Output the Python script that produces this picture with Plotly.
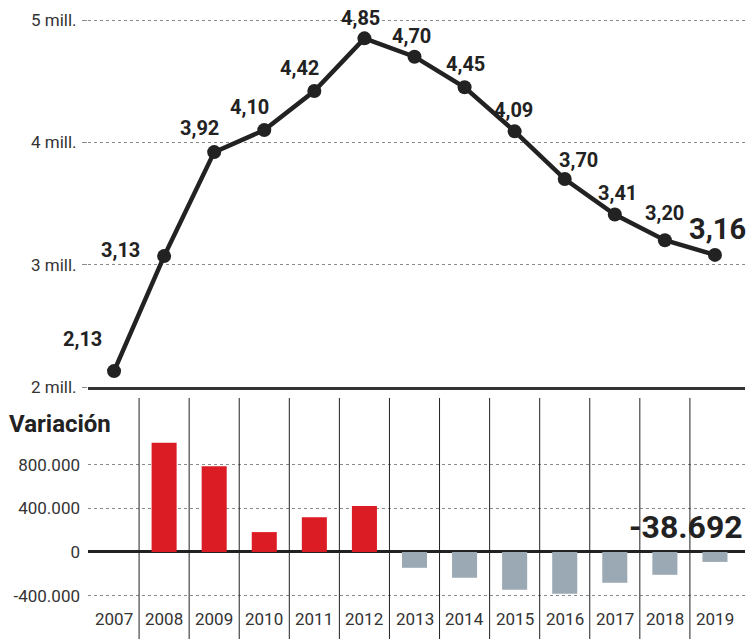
import plotly.graph_objects as go

years = list(range(2007, 2020))
# Total (millions) as plotted in the picture
total_mill = [2.13, 3.07, 3.92, 4.10, 4.42, 4.85, 4.70, 4.45, 4.09, 3.70, 3.41, 3.20, 3.08]
total_labels = ["2,13", "3,13", "3,92", "4,10", "4,42", "4,85", "4,70", "4,45", "4,09", "3,70", "3,41", "3,20", "3,16"]
# Yearly variation as drawn
variation = [0, 1000000, 785000, 182000, 318000, 420000, -145000, -236000, -345000, -382000, -282000, -209000, -91000]
last_variation_label = "-38.692"

top_ticks = [2, 3, 4, 5]
top_ticktext = ["2 mill.", "3 mill.", "4 mill.", "5 mill."]
bot_ticks = [-400000, 0, 400000, 800000]
bot_ticktext = ["-400.000", "0", "400.000", "800.000"]

# label offsets (px) relative to each point: (dx, dy up)
label_offsets = [(-32, 32), (-44, 6), (-15, 24), (-15, 23), (-15, 23), (-4, 20), (-3, 21),
                 (1, 23), (-1, 21), (14, 19), (3, 22), (0, 27), (3, 26)]

FONT = "Roboto, sans-serif"
BOLD = "Roboto, sans-serif"
RED = "#DC1C24"
GRAY = "#9AA9B4"
INK = "#222222"

W, H = 749, 639
def py(pix):
    return (H - pix) / H

fig = go.Figure()

fig.add_trace(go.Scatter(
    x=years, y=total_mill, mode="lines+markers",
    line=dict(color=INK, width=4.5),
    marker=dict(color=INK, size=14),
    xaxis="x", yaxis="y", hoverinfo="skip", showlegend=False,
))

bar_colors = [RED if v >= 0 else GRAY for v in variation]
fig.add_trace(go.Bar(
    x=years, y=variation, width=0.5, marker=dict(color=bar_colors, line=dict(width=0)),
    xaxis="x2", yaxis="y2", hoverinfo="skip", showlegend=False,
))

annotations = []
for i, (yr, v, lab) in enumerate(zip(years, total_mill, total_labels)):
    dx, dy = label_offsets[i]
    big = i == len(years) - 1
    annotations.append(dict(
        x=yr, y=v, xref="x", yref="y", text=f"<b>{lab}</b>", showarrow=False,
        xanchor="center", yanchor="middle", xshift=dx, yshift=dy,
        font=dict(family=BOLD, size=29 if big else 20, color=INK),
    ))

for yr in years:
    annotations.append(dict(
        x=yr, y=py(619), xref="x2", yref="paper", text=str(yr), showarrow=False,
        xanchor="center", yanchor="middle",
        font=dict(family=FONT, size=17, color="#333333"),
    ))

annotations.append(dict(
    x=7 / W, y=py(424), xref="paper", yref="paper", text="<b>Variación</b>", showarrow=False,
    xanchor="left", yanchor="middle", font=dict(family=BOLD, size=24, color=INK),
))
annotations.append(dict(
    x=years[-1], y=py(527), xref="x2", yref="paper", text=f"<b>{last_variation_label}</b>",
    showarrow=False, xanchor="center", yanchor="middle", xshift=-29,
    font=dict(family=BOLD, size=32, color=INK),
))

shapes = []
for yr in years[:-1]:
    shapes.append(dict(
        type="line", xref="x2", yref="paper", x0=yr + 0.5, x1=yr + 0.5,
        y0=0, y1=py(398), line=dict(color=INK, width=1), layer="above",
    ))

xr = [2006.48, 2019.6]
xdom = [88 / W, 745 / W]

fig.update_layout(
    width=W, height=H, margin=dict(l=0, r=0, t=0, b=0, autoexpand=False),
    plot_bgcolor="white", paper_bgcolor="white",
    font=dict(family=FONT, color="#333333"),
    bargap=0.5,
    xaxis=dict(domain=xdom, range=xr, showgrid=False, showticklabels=False, zeroline=False,
               showline=True, linecolor="#333333", linewidth=2.5, anchor="y", fixedrange=True),
    yaxis=dict(domain=[py(387), 1], range=[2, 5 + 20 / 122.3], tickvals=top_ticks, ticktext=top_ticktext,
               showgrid=True, gridcolor="#8a8a8a", griddash="dot", gridwidth=1, zeroline=False,
               ticks="outside", ticklen=5, tickcolor="#8a8a8a", ticklabelstandoff=2,
               tickfont=dict(family=FONT, size=17, color="#333333"), anchor="x"),
    xaxis2=dict(domain=xdom, range=xr, showgrid=False, showticklabels=False, zeroline=False,
                showline=False, anchor="y2"),
    yaxis2=dict(domain=[0, py(398)], range=[-797000, 1410000], tickvals=bot_ticks, ticktext=bot_ticktext,
                showgrid=True, gridcolor="#8a8a8a", griddash="dot", gridwidth=1,
                zeroline=True, zerolinecolor=INK, zerolinewidth=2.5, ticklabelstandoff=7,
                tickfont=dict(family=FONT, size=17, color="#333333"), anchor="x2"),
    annotations=annotations, shapes=shapes,
)

fig.write_html("out.html", config={"displayModeBar": False},
               post_script="document.body.style.margin='0';document.body.style.overflow='hidden';")
